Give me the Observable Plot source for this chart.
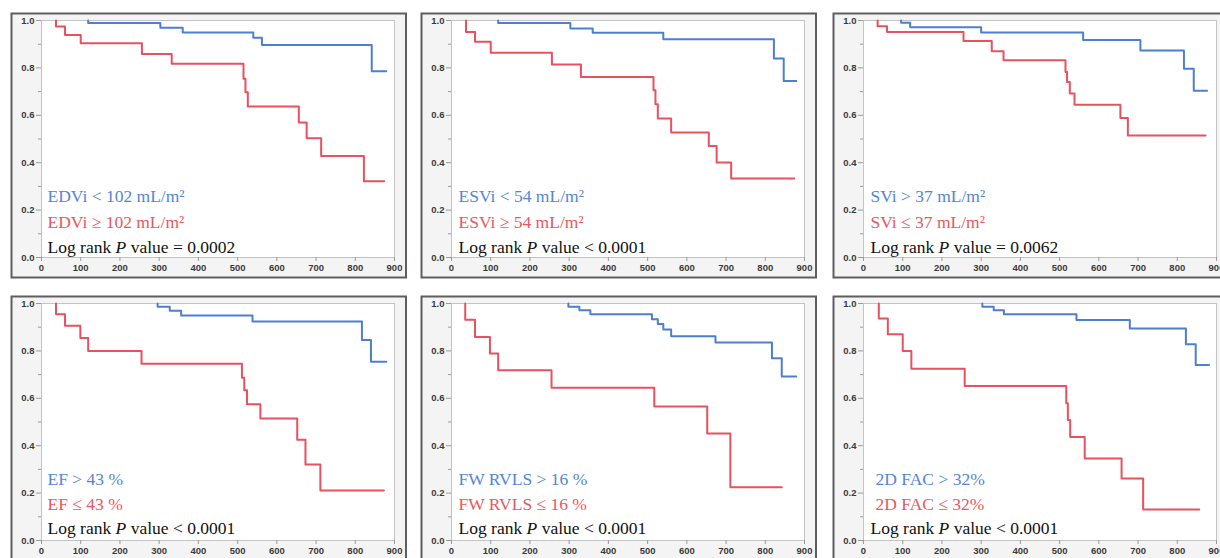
<!DOCTYPE html>
<html>
<head>
<meta charset="utf-8">
<script src="https://cdn.jsdelivr.net/npm/d3@7"></script>
<script src="https://cdn.jsdelivr.net/npm/@observablehq/plot@0.6"></script>
<style>
  html, body { margin: 0; padding: 0; background: #ffffff; }
  #wrap { position: relative; width: 1220px; height: 558px; overflow: hidden; background: #ffffff; }
  .panel { position: absolute; width: 410px; height: 280px; }
  .panel svg { max-width: none !important; }
</style>
</head>
<body>
<div id="wrap"></div>
<script>
// ---- axis ticks ----
const xTicks = [0, 100, 200, 300, 400, 500, 600, 700, 800, 900];
const yTicks = [0, 0.2, 0.4, 0.6, 0.8, 1.0];
const yMinorTicks = [0.1, 0.3, 0.5, 0.7, 0.9];

// ---- EDVi ----
const edviLowT  = [119, 303, 360, 540, 562, 842, 879];
const edviLowS  = [0.989, 0.969, 0.949, 0.927, 0.897, 0.786, 0.786];
const edviHighT = [37, 60, 100, 256, 332, 515, 520, 526, 656, 676, 713, 822, 874];
const edviHighS = [0.975, 0.939, 0.904, 0.859, 0.817, 0.754, 0.697, 0.637, 0.570, 0.503, 0.428, 0.322, 0.322];

// ---- ESVi ----
const esviLowT  = [119, 303, 360, 540, 822, 847, 879];
const esviLowS  = [0.989, 0.966, 0.948, 0.921, 0.840, 0.745, 0.745];
const esviHighT = [37, 60, 100, 256, 330, 515, 520, 526, 560, 656, 676, 713, 874];
const esviHighS = [0.952, 0.910, 0.864, 0.814, 0.762, 0.706, 0.647, 0.586, 0.527, 0.470, 0.401, 0.333, 0.333];

// ---- SVi ----
const sviHighT = [96, 119, 300, 560, 706, 817, 842, 876];
const sviHighS = [0.990, 0.972, 0.949, 0.918, 0.873, 0.796, 0.704, 0.704];
const sviLowT  = [36, 60, 255, 327, 357, 515, 519, 526, 538, 655, 674, 872];
const sviLowS  = [0.976, 0.951, 0.913, 0.870, 0.832, 0.783, 0.741, 0.692, 0.645, 0.589, 0.515, 0.515];

// ---- EF ----
const efHighT = [296, 327, 356, 538, 817, 840, 879];
const efHighS = [0.986, 0.969, 0.949, 0.924, 0.846, 0.754, 0.754];
const efLowT  = [37, 60, 99, 119, 255, 511, 517, 524, 558, 652, 673, 711, 873];
const efLowS  = [0.955, 0.906, 0.854, 0.800, 0.746, 0.687, 0.634, 0.575, 0.515, 0.425, 0.321, 0.211, 0.211];

// ---- FW RVLS ----
const fwHighT = [298, 326, 354, 511, 526, 540, 560, 673, 817, 842, 879];
const fwHighS = [0.986, 0.972, 0.955, 0.934, 0.913, 0.890, 0.862, 0.835, 0.769, 0.692, 0.692];
const fwLowT  = [35, 60, 98, 119, 255, 517, 652, 711, 842];
const fwLowS  = [0.931, 0.859, 0.789, 0.718, 0.645, 0.565, 0.451, 0.225, 0.225];

// ---- 2D FAC ----
const facHighT = [303, 332, 358, 543, 679, 822, 847, 881];
const facHighS = [0.986, 0.972, 0.955, 0.930, 0.894, 0.828, 0.741, 0.741];
const facLowT  = [39, 62, 100, 122, 258, 517, 521, 527, 564, 658, 713, 856];
const facLowS  = [0.937, 0.870, 0.800, 0.725, 0.652, 0.579, 0.508, 0.437, 0.346, 0.262, 0.131, 0.131];

// ---- labels ----
const blueLabels = ["EDVi < 102 mL/m²", "ESVi < 54 mL/m²", "SVi > 37 mL/m²", "EF > 43 %", "FW RVLS > 16 %", "2D FAC > 32%"];
const redLabels  = ["EDVi ≥ 102 mL/m²", "ESVi ≥ 54 mL/m²", "SVi ≤ 37 mL/m²", "EF ≤ 43 %", "FW RVLS ≤ 16 %", "2D FAC ≤ 32%"];
const pLabels    = ["Log rank P value = 0.0002", "Log rank P value < 0.0001", "Log rank P value = 0.0062",
                    "Log rank P value < 0.0001", "Log rank P value < 0.0001", "Log rank P value < 0.0001"];

const blueT = [edviLowT, esviLowT, sviHighT, efHighT, fwHighT, facHighT];
const blueS = [edviLowS, esviLowS, sviHighS, efHighS, fwHighS, facHighS];
const redT  = [edviHighT, esviHighT, sviLowT, efLowT, fwLowT, facLowT];
const redS  = [edviHighS, esviHighS, sviLowS, efLowS, fwLowS, facLowS];

// ---- layout / style (not data) ----
const BLUE = "#4d7fcf", RED = "#e8515f";
const BLUE_TXT = "#5486d4", RED_TXT = "#e85862";
const plotLefts = [40.7, 450.7, 863.3];
const plotTops = [20, 302.7];
const legendDx = [[6, 6, 6], [7, 7, 7], [7, 7, 7], [6, 6, 6], [7, 7, 7], [12, 12, 7]];
const legendDy = [[-61, -35.5, -10.5], [-61, -35.5, -10.5], [-61, -35.5, -10.5], [-61, -36, -12], [-61, -36, -12], [-61, -36, -12]];

function km(T, S) {
  const pts = [{t: T[0], s: 1}];
  T.forEach((t, i) => pts.push({t, s: S[i]}));
  return pts;
}

const wrap = document.getElementById("wrap");
const ML = 41, MT = 20, PW = 353, PH = 237, W = 410, H = 280;
const serif = "Liberation Serif, Times New Roman, serif";

for (let i = 0; i < 6; i++) {
  const col = i % 3, row = Math.floor(i / 3);
  const chart = Plot.plot({
    width: W, height: H,
    marginLeft: ML, marginTop: MT, marginRight: W - ML - PW, marginBottom: H - MT - PH,
    style: {background: "transparent", fontFamily: "Liberation Sans, Arial, sans-serif", overflow: "visible", maxWidth: "none"},
    x: {domain: [0, 900], axis: null},
    y: {domain: [0, 1], axis: null},
    marks: [
      Plot.frame({insetLeft: -30, insetTop: -7, insetRight: -11.5, insetBottom: -20, stroke: "#5e5e5e", strokeWidth: 2, fill: "#f4f4f4"}),
      Plot.frame({stroke: "#c4c4c4", strokeWidth: 1, fill: "#ffffff"}),
      Plot.axisY({ticks: yMinorTicks, tickSize: 3, text: null, label: null, stroke: "#9a9a9a"}),
      Plot.axisY({ticks: yTicks, tickSize: 5, tickPadding: 2, tickFormat: d3.format(".1f"), label: null, stroke: "#9a9a9a",
                  fill: "#3a3a3a", fontSize: 9.5, fontWeight: "bold"}),
      Plot.axisX({ticks: xTicks, tickSize: 4, tickPadding: 3, tickFormat: d => String(d), label: null, stroke: "#9a9a9a",
                  fill: "#3a3a3a", fontSize: 9.5, fontWeight: "bold"}),
      Plot.line(km(redT[i], redS[i]), {x: "t", y: "s", curve: "step-after", stroke: RED, strokeWidth: 2}),
      Plot.line(km(blueT[i], blueS[i]), {x: "t", y: "s", curve: "step-after", stroke: BLUE, strokeWidth: 2}),
      Plot.text([blueLabels[i]], {frameAnchor: "bottom-left", textAnchor: "start", lineAnchor: "middle", text: d => d,
                  dx: legendDx[i][0], dy: legendDy[i][0], fill: BLUE_TXT, fontSize: 17.5, fontFamily: serif}),
      Plot.text([redLabels[i]], {frameAnchor: "bottom-left", textAnchor: "start", lineAnchor: "middle", text: d => d,
                  dx: legendDx[i][1], dy: legendDy[i][1], fill: RED_TXT, fontSize: 17.5, fontFamily: serif}),
      Plot.text([pLabels[i]], {frameAnchor: "bottom-left", textAnchor: "start", lineAnchor: "middle", text: d => d,
                  dx: legendDx[i][2], dy: legendDy[i][2], fill: "#111111", fontSize: 17.5, fontFamily: serif})
    ]
  });
  // italic P in "Log rank P value"
  chart.querySelectorAll("text").forEach(t => {
    const s = t.textContent;
    if (s.startsWith("Log rank P ")) {
      t.textContent = "";
      const ns = "http://www.w3.org/2000/svg";
      const a = document.createElementNS(ns, "tspan"); a.textContent = "Log rank ";
      const b = document.createElementNS(ns, "tspan"); b.textContent = "P"; b.setAttribute("font-style", "italic");
      const c = document.createElementNS(ns, "tspan"); c.textContent = s.slice("Log rank P".length);
      t.append(a, b, c);
    }
  });
  const div = document.createElement("div");
  div.className = "panel";
  div.style.left = (plotLefts[col] - ML) + "px";
  div.style.top = (plotTops[row] - MT) + "px";
  div.appendChild(chart);
  wrap.appendChild(div);
}
</script>
</body>
</html>
